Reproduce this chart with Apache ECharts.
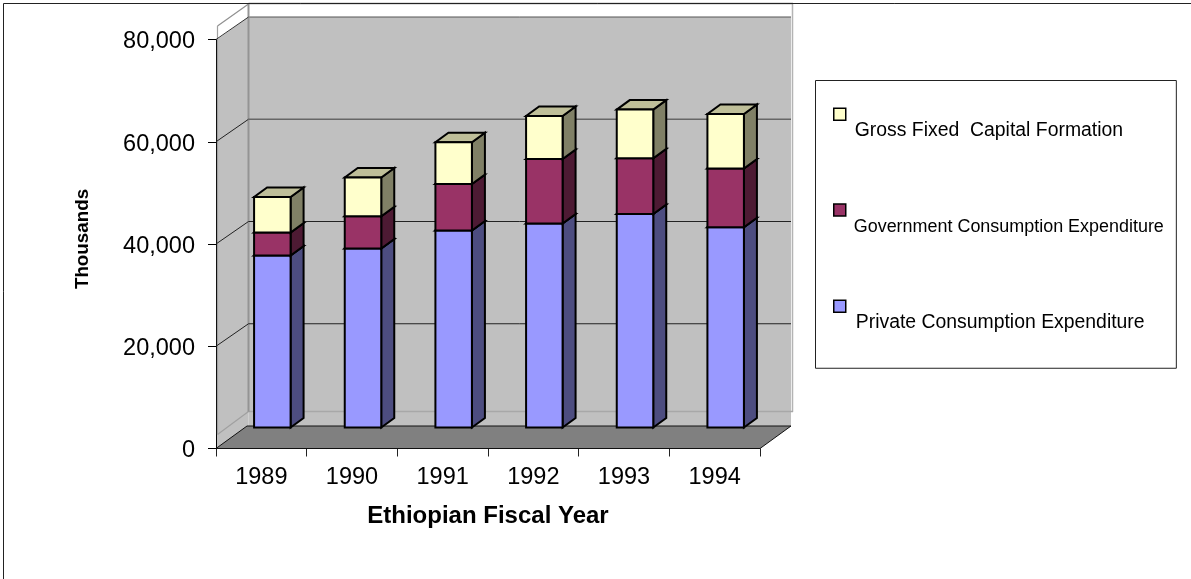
<!DOCTYPE html>
<html>
<head>
<meta charset="utf-8">
<style>html,body{margin:0;padding:0;background:#fff}#c{width:1191px;height:579px}</style>
<script src="https://cdn.jsdelivr.net/npm/echarts@6/dist/echarts.min.js"></script>
</head>
<body>
<div id="c"></div>
<script>
const years = ['1989', '1990', '1991', '1992', '1993', '1994'];
const privateConsumption = [33630, 35000, 38520, 39890, 41770, 39170];
const governmentConsumption = [4500, 6320, 9110, 12630, 10890, 11480];
const grossCapitalFormation = [6960, 7570, 8160, 8410, 9520, 10670];
const wallLevels = [20000, 40000, 60000];
const names = ['Private Consumption Expenditure', 'Government Consumption Expenditure', 'Gross Fixed  Capital Formation'];

const FONT = '"Liberation Sans", Arial, sans-serif';
const WALL_DX = 31, WALL_DY = 22.5;
const BAR_W = 36.5, BAR_DX = 13, BAR_DY = 9.5, BAR_SHIFT_X = 11, BAR_SHIFT_Y = -21;

function cumulative(prev, vals) { return vals.map((v, i) => (prev ? prev[i] : 0) + v); }
const top1 = cumulative(null, privateConsumption);
const top2 = cumulative(top1, governmentConsumption);
const top3 = cumulative(top2, grossCapitalFormation);

function renderBox(front, top, side) {
  return function (params, api) {
    const a = api.coord([api.value(0), api.value(1)]);
    const b = api.coord([api.value(0), api.value(2)]);
    const x0 = a[0] + BAR_SHIFT_X - BAR_W / 2, x1 = x0 + BAR_W;
    const yb = a[1] + BAR_SHIFT_Y, yt = b[1] + BAR_SHIFT_Y;
    const st = c => ({ fill: c, stroke: '#000', lineWidth: 2, lineJoin: 'miter' });
    return {
      type: 'group',
      children: [
        { type: 'polygon', shape: { points: [[x1, yb], [x1 + BAR_DX, yb - BAR_DY], [x1 + BAR_DX, yt - BAR_DY], [x1, yt]] }, style: st(side) },
        { type: 'polygon', shape: { points: [[x0, yt], [x1, yt], [x1 + BAR_DX, yt - BAR_DY], [x0 + BAR_DX, yt - BAR_DY]] }, style: st(top) },
        { type: 'rect', shape: { x: x0, y: yt, width: BAR_W, height: yb - yt }, style: st(front) }
      ]
    };
  };
}

function renderBackdrop(params, api) {
  const cs = params.coordSys;
  const L = cs.x, R = cs.x + cs.width;
  const yAt = v => api.coord([0, v])[1];
  const Y0 = yAt(0), YT = yAt(80000);
  const bx = L + WALL_DX + 1.5, rx = R + WALL_DX;
  const by = Y0 - WALL_DY, ty = YT - WALL_DY;
  const line = (x1, y1, x2, y2, stroke, lineWidth) => ({ type: 'line', shape: { x1, y1, x2, y2 }, style: { stroke, lineWidth } });
  const children = [
    { type: 'rect', shape: { x: bx, y: ty, width: rx - bx, height: by - ty }, style: { fill: '#c0c0c0' } },
    { type: 'polygon', shape: { points: [[L + 1, YT], [bx, ty], [bx, by], [L + 1, Y0]] }, style: { fill: '#c0c0c0' } },
    line(bx, ty, rx, ty, '#555', 1),
    line(rx + 1.5, 4, rx + 1.5, by - 14, '#b4b4b4', 1.5),
    line(bx, by - 14.5, rx + 2, by - 14.5, '#a8a8a8', 1.5),
    line(bx, 3.5, rx + 2, 3.5, '#808080', 1.5),
    line(bx, 4, bx, by - 14, '#949494', 2),
    line(L + 1.5, 26, bx, 4, '#909090', 1.2),
    line(L + 1.5, 26, L + 1.5, Y0 - 14, '#a0a0a0', 1.2),
    line(L + 1.5, Y0 - 14, bx, by - 14.5, '#a0a0a0', 1.2),
    line(L, YT, bx, ty, '#333', 1)
  ];
  wallLevels.forEach(v => {
    const y = yAt(v);
    const isTop = v === wallLevels[wallLevels.length - 1];
    children.push(line(L, y, bx, y - WALL_DY, '#222', 1));
    children.push(line(bx, y - WALL_DY, rx, y - WALL_DY, isTop ? '#666' : '#222', isTop ? 1.5 : 1));
  });
  children.push({
    type: 'polygon',
    shape: { points: [[L, Y0], [R, Y0], [R + WALL_DX, by], [L + WALL_DX, by]] },
    style: { fill: '#808080', stroke: '#111', lineWidth: 1 }
  });
  return { type: 'group', children };
}

function stackData(lower, upper) {
  return years.map((y, i) => [i, lower ? lower[i] : 0, upper[i]]);
}

const richStyles = {
  g0: { fontFamily: FONT, fontSize: 19.4, color: '#000', padding: [32, 0, 0, 4] },
  g1: { fontFamily: FONT, fontSize: 17.95, color: '#000', padding: [34, 0, 0, 3] },
  g2: { fontFamily: FONT, fontSize: 19.4, color: '#000', padding: [32, 0, 0, 5] }
};
const legendOrder = [names[2], names[1], names[0]];

const chart = echarts.init(document.getElementById('c'), null, { renderer: 'canvas', width: 1191, height: 579 });
chart.setOption({
  animation: false,
  backgroundColor: '#fff',
  textStyle: { fontFamily: FONT },
  grid: { left: 216, top: 39.5, width: 544, height: 409, containLabel: false },
  xAxis: {
    type: 'category',
    data: years,
    boundaryGap: true,
    name: 'Ethiopian Fiscal Year',
    nameLocation: 'middle',
    nameGap: 56,
    nameTextStyle: { fontFamily: FONT, fontSize: 24, fontWeight: 'bold', color: '#000' },
    axisLine: { lineStyle: { color: '#000', width: 1 } },
    axisTick: { show: true, length: 8, alignWithLabel: false, lineStyle: { color: '#222' } },
    axisLabel: { fontFamily: FONT, fontSize: 23.5, color: '#000', margin: 17 }
  },
  yAxis: {
    type: 'value',
    min: 0,
    max: 80000,
    interval: 20000,
    name: 'Thousands',
    nameLocation: 'middle',
    nameGap: 124,
    nameRotate: 90,
    nameTextStyle: { fontFamily: FONT, fontSize: 18.8, fontWeight: 'bold', color: '#000', padding: [0, 0, 0, 10] },
    axisLine: { show: true, lineStyle: { color: '#000', width: 1 } },
    axisTick: { show: true, length: 8, lineStyle: { color: '#000' } },
    axisLabel: {
      color: '#000',
      margin: 21,
      formatter: v => `{v|${v.toLocaleString('en-US')}}`,
      rich: { v: { fontFamily: FONT, fontSize: 23.5, color: '#000', padding: [5, 0, 0, 0] } }
    },
    splitLine: { show: false }
  },
  legend: {
    left: 815.5,
    top: 80.5,
    orient: 'vertical',
    align: 'left',
    padding: [27, 12.5, 36.5, 17.5],
    backgroundColor: '#fff',
    borderColor: '#222',
    borderWidth: 1,
    itemWidth: 12,
    itemHeight: 12,
    itemGap: 63.5,
    selectedMode: false,
    data: legendOrder.map(n => ({ name: n, icon: 'rect' })),
    formatter: n => `{g${legendOrder.indexOf(n)}|${n}}`,
    textStyle: { rich: richStyles },
    itemStyle: { borderColor: '#000', borderWidth: 1.5 }
  },
  graphic: [{
    type: 'polyline', silent: true, z: 100,
    shape: { points: [[3.5, 579], [3.5, 3.5], [1191, 3.5]] },
    style: { stroke: '#222', lineWidth: 1, fill: 'none' }
  }],
  series: [
    { type: 'custom', name: 'walls', z: 1, silent: true, clip: false, renderItem: renderBackdrop, data: [[0, 0]], encode: { x: 0, y: 1 } },
    { type: 'custom', name: names[0], z: 3, clip: false, renderItem: renderBox('#9999ff', '#7373bf', '#4d4d80'), itemStyle: { color: '#9999ff' }, data: stackData(null, top1), encode: { x: 0, y: [1, 2] } },
    { type: 'custom', name: names[1], z: 3, clip: false, renderItem: renderBox('#993366', '#73264d', '#4d1a33'), itemStyle: { color: '#993366' }, data: stackData(top1, top2), encode: { x: 0, y: [1, 2] } },
    { type: 'custom', name: names[2], z: 3, clip: false, renderItem: renderBox('#ffffcc', '#bfbf99', '#808066'), itemStyle: { color: '#ffffcc' }, data: stackData(top2, top3), encode: { x: 0, y: [1, 2] } }
  ]
});
</script>
</body>
</html>
